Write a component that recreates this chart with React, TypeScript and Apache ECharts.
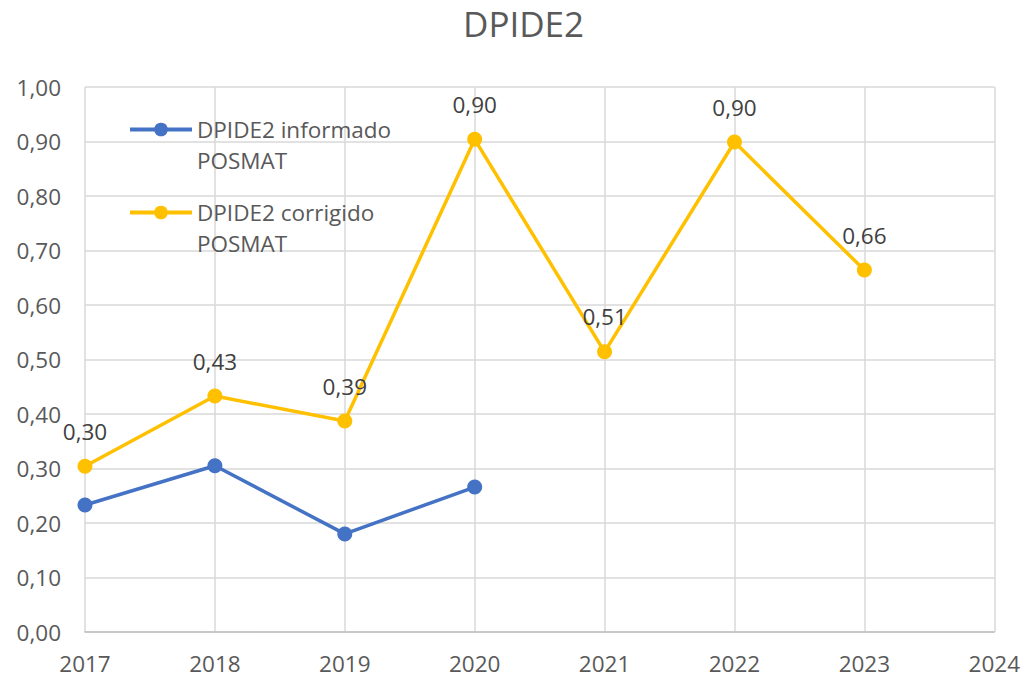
import React, { useEffect, useRef } from "react";
import * as echarts from "echarts";

const years = [2017, 2018, 2019, 2020, 2021, 2022, 2023];
const informado = [0.233, 0.305, 0.18, 0.266];
const corrigido = [0.304, 0.433, 0.387, 0.904, 0.514, 0.899, 0.664];
const seriesNames = ["DPIDE2 informado POSMAT", "DPIDE2 corrigido POSMAT"];
const legendLines = [
  ["DPIDE2 informado", "POSMAT"],
  ["DPIDE2 corrigido", "POSMAT"],
];
const title = "DPIDE2";

const FONT = "Open Sans";
const FS = 22.5;
const fmt = (v: number) => v.toFixed(2).replace(".", ",");

export default function App() {
  const ref = useRef<HTMLDivElement>(null);
  useEffect(() => {
    if (!ref.current) return;
    const chart = echarts.init(ref.current, undefined, { renderer: "svg" });
    const lh = 31;
    const legendBase = (i: number, top: number) => ({
      data: [seriesNames[i]],
      left: 123,
      top,
      orient: "vertical",
      itemWidth: 62,
      itemHeight: 17,
      itemGap: 0,
      selectedMode: false,
      lineStyle: { width: 4 },
      formatter: () => "\n" + legendLines[i].join("\n"),
      textStyle: {
        fontFamily: FONT,
        fontSize: FS,
        color: "#595959",
        lineHeight: lh,
      },
    });
    chart.setOption({
      animation: false,
      backgroundColor: "#ffffff",
      textStyle: { fontFamily: FONT },
      title: {
        text: title,
        left: 458,
        top: 1,
        textStyle: { fontFamily: FONT, fontSize: 35, fontWeight: "normal", color: "#595959" },
      },
      legend: [legendBase(0, 78), legendBase(1, 161)],
      grid: { left: 85, right: 28, top: 87, bottom: 46, containLabel: false },
      xAxis: {
        type: "value",
        min: 2017,
        max: 2024,
        interval: 1,
        axisLine: { show: true, lineStyle: { color: "#bfbfbf", width: 1.5 } },
        axisTick: { show: false },
        splitLine: { show: true, lineStyle: { color: "#d9d9d9", width: 1.5 } },
        axisLabel: {
          formatter: (v: number) => String(v),
          fontFamily: FONT,
          fontSize: FS,
          lineHeight: 23,
          color: "#595959",
          margin: 20,
        },
      },
      yAxis: {
        type: "value",
        min: 0,
        max: 1,
        interval: 0.1,
        axisLine: { show: false },
        axisTick: { show: false },
        splitLine: { show: true, lineStyle: { color: "#d9d9d9", width: 1.5 } },
        axisLabel: {
          formatter: (v: number) => fmt(v),
          fontFamily: FONT,
          fontSize: FS,
          color: "#595959",
          margin: 24,
        },
      },
      series: [
        {
          name: seriesNames[0],
          type: "line",
          data: informado.map((v, i) => [years[i], v]),
          symbol: "circle",
          symbolSize: 15,
          lineStyle: { color: "#4472C4", width: 3.5 },
          itemStyle: { color: "#4472C4" },
          label: { show: false },
        },
        {
          name: seriesNames[1],
          type: "line",
          data: corrigido.map((v, i) => [years[i], v]),
          symbol: "circle",
          symbolSize: 15,
          lineStyle: { color: "#FFC000", width: 3.5 },
          itemStyle: { color: "#FFC000" },
          label: {
            show: true,
            position: "top",
            distance: 16,
            formatter: (p: any) => fmt(p.value[1]),
            fontFamily: FONT,
            fontSize: FS,
            color: "#404040",
          },
        },
      ],
    });
    return () => chart.dispose();
  }, []);
  return (
    <div
      ref={ref}
      style={{ position: "fixed", left: 0, top: 0, width: 1023, height: 678 }}
    />
  );
}
